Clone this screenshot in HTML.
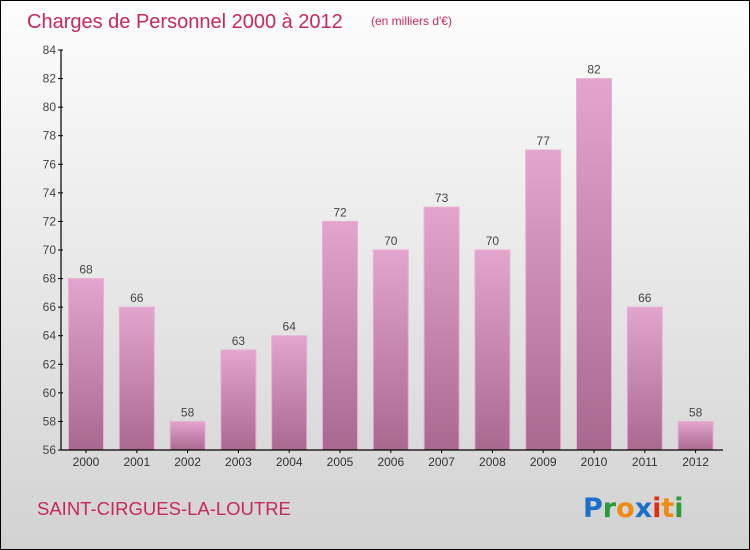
<!DOCTYPE html>
<html><head><meta charset="utf-8"><style>
body{margin:0;}
#c{width:748px;height:548px;border:1px solid #000;background:linear-gradient(#fdfdfd,#d2d2d2);position:relative;overflow:hidden;font-family:"Liberation Sans",sans-serif;}
</style></head><body>
<div id="c">
<svg width="748" height="548" id="svg">
<defs><linearGradient id="bg" x1="0" y1="0" x2="0" y2="1"><stop offset="0" stop-color="#e3a5cd"/><stop offset="1" stop-color="#a9688f"/></linearGradient></defs>
<text x="26" y="27" font-size="20" fill="#c8285a">Charges de Personnel 2000 à 2012</text>
<text x="370" y="24" font-size="12" fill="#c8285a">(en milliers d'€)</text>
<text x="36" y="514" font-size="18.5" fill="#c8285a">SAINT-CIRGUES-LA-LOUTRE</text>
<g font-size="27" font-weight="bold" font-family="'DejaVu Sans',sans-serif">
<text x="582" y="516"><tspan fill="#1a6fc8">P</tspan><tspan fill="#2a9a3a">r</tspan><tspan fill="#f08a10">o</tspan><tspan fill="#1a6fc8">x</tspan><tspan fill="#e03010">i</tspan><tspan fill="#f08a10">t</tspan><tspan fill="#2a9a3a">i</tspan></text></g>
<g id="plot"></g>
</svg>
</div>
<script>
const years=["2000","2001","2002","2003","2004","2005","2006","2007","2008","2009","2010","2011","2012"];
const values=[68,66,58,63,64,72,70,73,70,77,82,66,58];
const ticks=[56,58,60,62,64,66,68,70,72,74,76,78,80,82,84];
const NS="http://www.w3.org/2000/svg";
const g=document.getElementById('plot');
const y0=449,y1=49,vmin=56,vmax=84;
const Y=v=>y0-(v-vmin)/(vmax-vmin)*(y0-y1);
const X=i=>85+i*50.8;
function el(t,a,txt){const e=document.createElementNS(NS,t);for(const k in a)e.setAttribute(k,a[k]);if(txt!==undefined)e.textContent=txt;g.appendChild(e);return e;}
values.forEach((v,i)=>{
 const r=el('rect',{x:X(i)-17.5,y:Y(v),width:35,height:y0-Y(v),fill:'url(#bg)',stroke:'#e8b0d4','stroke-width':1});
 
 
 const t=el('text',{x:X(i),y:Y(v)-5,'text-anchor':'middle','font-size':12,fill:'#444'},v);
 
 
 const xl=el('text',{x:X(i),y:y0+16,'text-anchor':'middle','font-size':12,fill:'#333'},years[i]);
 
 
 el('line',{x1:X(i),x2:X(i),y1:y0,y2:y0+3,stroke:'#000'});
});
ticks.forEach(t=>{
 el('line',{x1:57,x2:62,y1:Y(t),y2:Y(t),stroke:'#000'});
 const l=el('text',{x:55,y:Y(t)+4,'text-anchor':'end','font-size':12,fill:'#444'},t);
 
 
});
const ya=el('line',{x1:60,x2:60,y1:y1,y2:y0,stroke:'#000','stroke-width':1.2});


const xa=el('line',{x1:60,x2:722,y1:y0,y2:y0,stroke:'#000','stroke-width':1.2});


</script>
</body></html>
